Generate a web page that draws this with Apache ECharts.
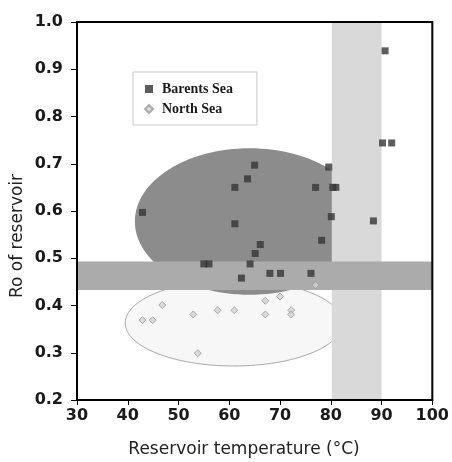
<!DOCTYPE html>
<html><head><meta charset="utf-8">
<script src="https://cdn.jsdelivr.net/npm/echarts@6/dist/echarts.min.js"></script>
<style>html,body{margin:0;padding:0;background:#fff}#c{width:452px;height:462px}</style>
</head><body><div id="c"></div>
<script>
// Barents Sea samples: reservoir temperature (°C) and Ro
const barentsTemp = [42.9, 55.0, 56.0, 61.1, 61.1, 62.4, 63.6, 64.1, 65.0, 65.1, 66.1, 68.0, 70.1, 76.1, 77.0, 78.2, 79.6, 80.1, 80.4, 81.0, 88.4, 90.2, 92.0, 90.7];
const barentsRo   = [0.597, 0.488, 0.488, 0.650, 0.573, 0.458, 0.668, 0.488, 0.697, 0.510, 0.529, 0.468, 0.468, 0.468, 0.650, 0.538, 0.693, 0.588, 0.650, 0.650, 0.579, 0.744, 0.744, 0.939];
// North Sea samples
const northTemp = [42.9, 44.9, 46.8, 52.9, 53.8, 57.7, 61.0, 67.1, 67.1, 70.0, 72.2, 72.2, 77.0];
const northRo   = [0.369, 0.369, 0.401, 0.381, 0.299, 0.390, 0.390, 0.410, 0.381, 0.419, 0.390, 0.381, 0.443];
// axis ticks
const xTicks = [30, 40, 50, 60, 70, 80, 90, 100];
const yTicks = [0.2, 0.3, 0.4, 0.5, 0.6, 0.7, 0.8, 0.9, 1.0];
// shaded ranges
const tempBand = [80.2, 90.0];   // temperature window
const roBand = [0.433, 0.493];   // Ro window
// ellipses: [centre temp, centre Ro, half-width temp, half-height Ro]
const barentsEllipse = [64.0, 0.578, 22.6, 0.155];
const northEllipse = [60.9, 0.363, 21.4, 0.091];

const xMin = xTicks[0], xMax = xTicks[xTicks.length - 1];
const yMin = yTicks[0], yMax = yTicks[yTicks.length - 1];

function zip(a, b) { return a.map((v, i) => [v, b[i]]); }

function ellipseItem(fill, stroke) {
  return function (params, api) {
    const c = api.coord([api.value(0), api.value(1)]);
    const s = api.size([api.value(2), api.value(3)]);
    return {
      type: 'ellipse',
      shape: { cx: c[0], cy: c[1], rx: s[0], ry: s[1] },
      style: { fill: fill, stroke: stroke, lineWidth: stroke ? 1 : 0 }
    };
  };
}
function rectItem(fill) {
  return function (params, api) {
    const p0 = api.coord([api.value(0), api.value(3)]);
    const p1 = api.coord([api.value(1), api.value(2)]);
    return {
      type: 'rect',
      shape: { x: p0[0], y: p0[1], width: p1[0] - p0[0], height: p1[1] - p0[1] },
      style: { fill: fill }
    };
  };
}

const chart = echarts.init(document.getElementById('c'), null, { renderer: 'canvas' });
const tickFont = { fontFamily: 'DejaVu Sans', fontWeight: 'bold', fontSize: 16, color: '#1a1a1a' };

chart.setOption({
  animation: false,
  backgroundColor: '#fff',
  grid: { left: 77, right: 19, top: 22, bottom: 62, show: true, borderColor: '#000', borderWidth: 2, backgroundColor: 'transparent', z: 10 },
  xAxis: {
    type: 'value', min: xMin, max: xMax, interval: 10, z: 10,
    axisLine: { show: true, lineStyle: { color: '#000', width: 2 } },
    axisTick: { show: true, length: 5, lineStyle: { color: '#000', width: 1 } },
    axisLabel: Object.assign({ margin: 8 }, tickFont),
    splitLine: { show: false }
  },
  yAxis: {
    type: 'value', min: yMin, max: yMax, interval: 0.1, z: 10,
    axisLine: { show: true, lineStyle: { color: '#000', width: 2 } },
    axisTick: { show: true, length: 6, lineStyle: { color: '#000', width: 1 } },
    axisLabel: Object.assign({ margin: 14, formatter: v => v.toFixed(1) }, tickFont),
    splitLine: { show: false }
  },
  legend: {
    orient: 'vertical', left: 133, top: 72,
    padding: [10, 24, 9, 11], itemGap: 6, itemWidth: 8, itemHeight: 8,
    borderColor: '#c8c8c8', borderWidth: 1, backgroundColor: '#fff',
    textStyle: { fontFamily: 'Liberation Serif', fontWeight: 'bold', fontSize: 14, color: '#1a1a1a', padding: [0, 0, 0, 4] },
    data: [
      { name: 'Barents Sea', icon: 'rect' },
      { name: 'North Sea', icon: 'diamond' }
    ],
    z: 20
  },
  graphic: [
    {
      type: 'text', x: 18, y: 236, rotation: Math.PI / 2,
      style: { text: 'Ro of reservoir', fontFamily: 'DejaVu Sans', fontSize: 17, fill: '#222', align: 'center', verticalAlign: 'middle' }
    },
    {
      type: 'text', x: 244, y: 450,
      style: { text: 'Reservoir temperature (°C)', fontFamily: 'DejaVu Sans', fontSize: 17, fill: '#222', align: 'center', verticalAlign: 'middle' }
    }
  ],
  series: [
    { type: 'custom', name: 'northEllipse', z: 1, silent: true, renderItem: ellipseItem('#f7f7f7', '#a8a8a8'), data: [northEllipse], clip: true },
    { type: 'custom', name: 'barentsEllipse', z: 2, silent: true, renderItem: ellipseItem('#8c8c8c', null), data: [barentsEllipse], clip: true },
    { type: 'custom', name: 'tempBand', z: 3, silent: true, renderItem: rectItem('#d9d9d9'), encode: { x: [0, 1], y: [2, 3] }, data: [[tempBand[0], tempBand[1], yMin, yMax]] },
    { type: 'custom', name: 'roBand', z: 4, silent: true, renderItem: rectItem('#ababab'), encode: { x: [0, 1], y: [2, 3] }, data: [[xMin, xMax, roBand[0], roBand[1]]] },
    {
      type: 'scatter', name: 'North Sea', z: 5, symbol: 'diamond', symbolSize: 7,
      itemStyle: { color: '#d2d2d2', borderColor: '#9a9a9a', borderWidth: 1 },
      data: zip(northTemp, northRo)
    },
    {
      type: 'scatter', name: 'Barents Sea', z: 6, symbol: 'rect', symbolSize: 7,
      itemStyle: { color: '#353535' },
      data: zip(barentsTemp, barentsRo)
    }
  ]
});
</script></body></html>
